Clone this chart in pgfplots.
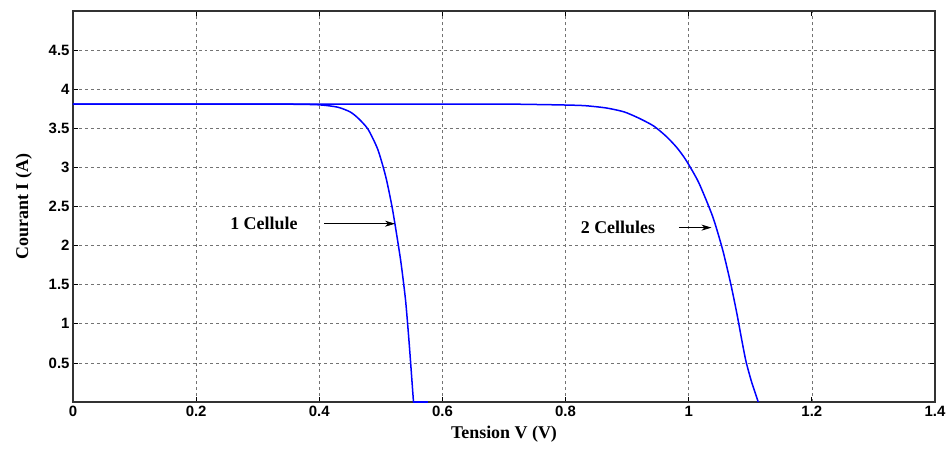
\documentclass[border=0pt]{standalone}
\usepackage{fontspec}
\setmainfont{Liberation Serif}
\newfontfamily\tickfont{Liberation Sans}
\usepackage{pgfplots}
\pgfplotsset{compat=1.18}
\usetikzlibrary{arrows.meta}

\begin{document}
\begin{tikzpicture}
\begin{axis}[
    scale only axis,
    width=862bp, height=391bp,
    xmin=0, xmax=1.4, ymin=0, ymax=5,
    xtick={0,0.2,...,1.4},
    ytick={0.5,1,...,4.5},
    /pgf/number format/assume math mode=true,
    ticklabel style={font=\tickfont\bfseries\fontsize{15}{17}\selectfont},
    xticklabel style={yshift=-1bp},
    grid=major,
    major grid style={dashed, black!55, line width=0.7bp},
    tick style={black, line width=0.8bp},
    major tick length=5bp,
    tick pos=both,
    axis line style={line width=1.3bp, black!80},
    xlabel={\bfseries Tension V (V)},
    ylabel={\bfseries Courant I (A)},
    label style={font=\fontsize{18}{20}\selectfont},
    xlabel style={yshift=-2bp},
    ylabel style={yshift=10bp},
]
\addplot[blue, line width=1.5bp, smooth, tension=0.4] coordinates {
(0,3.81) (0.2,3.81) (0.35,3.808) (0.4,3.80) (0.43,3.77) (0.45,3.71)
(0.463,3.63) (0.479,3.49) (0.495,3.23) (0.508,2.88) (0.519,2.46)
(0.532,1.82) (0.54,1.31) (0.545,0.85) (0.548,0.54) (0.553,0)};
\addplot[blue, line width=1.5bp] coordinates {(0.553,0) (0.576,0)};
\addplot[blue, line width=1.5bp, smooth, tension=0.4] coordinates {
(0,3.81) (0.6,3.81) (0.7,3.81) (0.785,3.80) (0.83,3.79) (0.866,3.76)
(0.895,3.71) (0.919,3.63) (0.943,3.53) (0.963,3.40) (0.98,3.26)
(0.995,3.10) (1.016,2.81) (1.039,2.37) (1.055,1.95) (1.068,1.52)
(1.078,1.14) (1.086,0.80) (1.093,0.52) (1.102,0.26) (1.113,0)};
\node[font=\bfseries\fontsize{18}{20}\selectfont] at (axis cs:0.31,2.28) {1 Cellule};
\draw[-{Stealth[length=10bp,width=6bp,inset=3bp]}, line width=0.7bp] (axis cs:0.408,2.28) -- (axis cs:0.523,2.28);
\node[font=\bfseries\fontsize{18}{20}\selectfont] at (axis cs:0.885,2.23) {2 Cellules};
\draw[-{Stealth[length=10bp,width=6bp,inset=3bp]}, line width=0.7bp] (axis cs:0.984,2.23) -- (axis cs:1.037,2.23);
\end{axis}
\pgfresetboundingbox
\path ([shift={(-73bp,-55bp)}]current axis.south west) rectangle ([shift={(12bp,11bp)}]current axis.north east);
\end{tikzpicture}
\end{document}
